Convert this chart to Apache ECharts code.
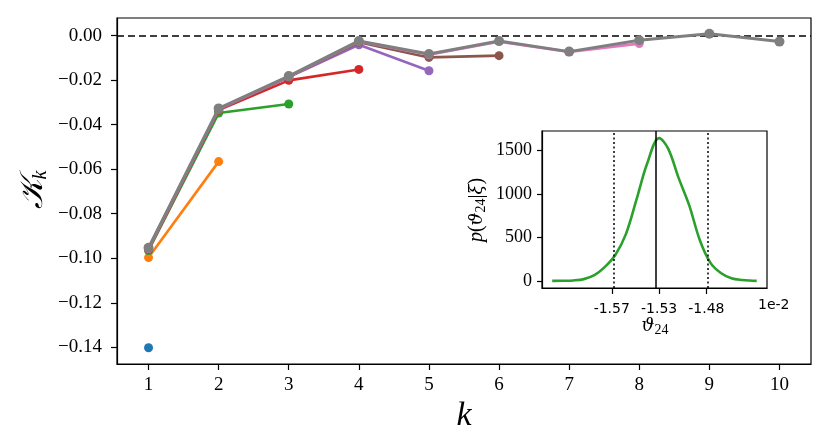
<!DOCTYPE html>
<html>
<head>
<meta charset="utf-8">
<script src="https://cdn.jsdelivr.net/npm/echarts@6/dist/echarts.min.js"></script>
<style>html,body{margin:0;padding:0;background:#fff}#c{width:831px;height:447px}</style>
</head>
<body>
<div id="c"></div>
<script>
// ---- main chart data ----
const kValues = [1, 2, 3, 4, 5, 6, 7, 8, 9, 10];
const yTicks = [0, -0.02, -0.04, -0.06, -0.08, -0.10, -0.12, -0.14];
const blueVals   = [-0.1402];
const orangeVals = [-0.0997, -0.0566];
const greenVals  = [-0.0965, -0.0348, -0.0307];
const redVals    = [-0.0960, -0.0335, -0.0201, -0.0152];
const purpleVals = [-0.0957, -0.0332, -0.0186, -0.0041, -0.0158];
const brownVals  = [-0.0957, -0.0330, -0.0185, -0.0030, -0.0098, -0.0090];
const pinkVals   = [-0.0956, -0.0329, -0.0184, -0.0026, -0.0086, -0.0027, -0.0073, -0.0036];
const grayVals   = [-0.0953, -0.0327, -0.0182, -0.0024, -0.0083, -0.0024, -0.0072, -0.0021, 0.0008, -0.0027];
const seriesColors = ['#1f77b4', '#ff7f0e', '#2ca02c', '#d62728', '#9467bd', '#8c564b', '#e377c2', '#7f7f7f'];
const allVals = [blueVals, orangeVals, greenVals, redVals, purpleVals, brownVals, pinkVals, grayVals];

// ---- inset data (theta in units of 1e-2) ----
const thetaVals   = [-1.628, -1.618, -1.608, -1.598, -1.588, -1.578, -1.568, -1.558, -1.548, -1.538, -1.5266, -1.518, -1.508, -1.498, -1.488, -1.478, -1.468, -1.458, -1.448, -1.438, -1.434];
const densityVals = [0, 1, 5, 20, 65, 160, 300, 540, 935, 1345, 1640, 1520, 1180, 868, 470, 210, 90, 30, 10, 2, 0];
const thetaTicks = [-1.5715, -1.5266, -1.4817];
const quantileLines = [-1.5715, -1.4817];
const meanLine = -1.5266;
const densityTicks = [0, 500, 1000, 1500];

const serif = 'Liberation Serif';
const greekSerif = 'DejaVu Serif';
const sans = 'DejaVu Sans';

const mainSeries = allVals.map((vals, si) => {
  const s = {
    type: 'line',
    xAxisIndex: 0, yAxisIndex: 0,
    data: vals.map((v, i) => [kValues[i], v]),
    symbol: 'circle',
    symbolSize: si === 7 ? 10 : 9,
    showSymbol: true,
    lineStyle: { color: seriesColors[si], width: si === 7 ? 3 : 2.6 },
    itemStyle: { color: seriesColors[si] },
    z: 2 + si,
    animation: false,
    silent: true
  };
  if (si === 0) {
    s.markLine = {
      silent: true, symbol: 'none', label: { show: false }, z: 1,
      lineStyle: { color: '#000', type: [7, 4], width: 1.5 },
      data: [{ yAxis: 0 }],
      animation: false
    };
  }
  return s;
});

const insetSeries = {
  type: 'line',
  xAxisIndex: 1, yAxisIndex: 1,
  data: thetaVals.map((t, i) => [t, densityVals[i]]),
  showSymbol: false,
  symbol: 'none',
  smooth: 0.35,
  lineStyle: { color: '#2ca02c', width: 2.6 },
  z: 20,
  animation: false,
  silent: true,
  markLine: {
    silent: true, symbol: 'none', label: { show: false }, animation: false, z: 30,
    data: [
      { xAxis: quantileLines[0], lineStyle: { color: '#000', type: [2, 2.5], width: 1.5 } },
      { xAxis: quantileLines[1], lineStyle: { color: '#000', type: [2, 2.5], width: 1.5 } },
      { xAxis: meanLine, lineStyle: { color: '#000', type: 'solid', width: 1.5 } }
    ]
  }
};

const chart = echarts.init(document.getElementById('c'), null, { renderer: 'canvas' });
chart.setOption({
  backgroundColor: '#fff',
  animation: false,
  grid: [
    { left: 117, top: 18, width: 694, height: 346, show: true, borderColor: '#000', borderWidth: 1.2, backgroundColor: 'transparent', z: 0 },
    { left: 542, top: 131, width: 225, height: 157, show: true, borderColor: '#000', borderWidth: 1.2, backgroundColor: '#fff', z: 10 }
  ],
  xAxis: [
    {
      gridIndex: 0, type: 'value', min: 0.55, max: 10.45,
      axisLine: { show: true, onZero: false, lineStyle: { color: '#000', width: 1.2 } },
      axisTick: { show: true, inside: false, length: 6, lineStyle: { color: '#000', width: 1.2 }, customValues: kValues },
      axisLabel: { show: true, margin: 12, fontFamily: serif, fontSize: 19, color: '#000', customValues: kValues, formatter: v => String(v) },
      splitLine: { show: false }
    },
    {
      gridIndex: 1, type: 'value', min: -1.6377, max: -1.4242, z: 10,
      axisLine: { show: true, onZero: false, lineStyle: { color: '#000', width: 1.2 } },
      axisTick: { show: true, inside: false, length: 6, lineStyle: { color: '#000', width: 1.2 }, customValues: thetaTicks },
      axisLabel: { show: true, margin: 14, fontFamily: sans, fontSize: 14, color: '#000', customValues: thetaTicks, formatter: v => v.toFixed(2) },
      splitLine: { show: false }
    }
  ],
  yAxis: [
    {
      gridIndex: 0, type: 'value', min: -0.1475, max: 0.0079,
      axisLine: { show: true, onZero: false, lineStyle: { color: '#000', width: 1.2 } },
      axisTick: { show: true, inside: false, length: 6, lineStyle: { color: '#000', width: 1.2 }, customValues: yTicks },
      axisLabel: { show: true, margin: 15, fontFamily: serif, fontSize: 19, color: '#000', customValues: yTicks,
        formatter: v => (Math.abs(v) < 1e-9 ? '0.00' : (v < 0 ? '\u2212' : '') + Math.abs(v).toFixed(2)) },
      splitLine: { show: false }
    },
    {
      gridIndex: 1, type: 'value', min: -82, max: 1722, z: 10,
      axisLine: { show: true, onZero: false, lineStyle: { color: '#000', width: 1.2 } },
      axisTick: { show: true, inside: false, length: 5, lineStyle: { color: '#000', width: 1.2 }, customValues: densityTicks },
      axisLabel: { show: true, margin: 10, fontFamily: serif, fontSize: 18, color: '#000', customValues: densityTicks, formatter: v => String(v) },
      splitLine: { show: false }
    }
  ],
  series: mainSeries.concat([insetSeries]),
  graphic: [
    {
      type: 'text', x: 34, y: 190, rotation: Math.PI / 2, z: 100,
      style: {
        text: '{K|\uD835\uDCA6}{s|k}', align: 'center', verticalAlign: 'middle', fill: '#000',
        rich: {
          K: { fontFamily: serif, fontSize: 32, fontStyle: 'italic', lineHeight: 34, verticalAlign: 'middle' },
          s: { fontFamily: serif, fontSize: 20, fontStyle: 'italic', lineHeight: 18, verticalAlign: 'bottom' }
        }
      }
    },
    {
      type: 'text', x: 464, y: 416, z: 100,
      style: { text: 'k', align: 'center', verticalAlign: 'middle', fill: '#000', fontFamily: serif, fontSize: 34, fontStyle: 'italic' }
    },
    {
      type: 'text', x: 655, y: 326, z: 100,
      style: {
        text: '{t|\u03D1}{s|24}', align: 'center', verticalAlign: 'middle', fill: '#000',
        rich: {
          t: { fontFamily: greekSerif, fontSize: 18, fontStyle: 'italic', lineHeight: 22, verticalAlign: 'middle' },
          s: { fontFamily: serif, fontSize: 14, lineHeight: 12, verticalAlign: 'bottom' }
        }
      }
    },
    {
      type: 'text', x: 477, y: 210, rotation: Math.PI / 2, z: 100,
      style: {
        text: '{i|p}{n|(}{g|\u03D1}{s|24}{n||}{g|\u03BE}{n|)}', align: 'center', verticalAlign: 'middle', fill: '#000',
        rich: {
          i: { fontFamily: serif, fontSize: 20, fontStyle: 'italic', lineHeight: 22, verticalAlign: 'middle' },
          g: { fontFamily: greekSerif, fontSize: 18, fontStyle: 'italic', lineHeight: 22, verticalAlign: 'middle' },
          n: { fontFamily: serif, fontSize: 20, lineHeight: 22, verticalAlign: 'middle' },
          s: { fontFamily: serif, fontSize: 14, lineHeight: 12, verticalAlign: 'bottom' }
        }
      }
    },
    {
      type: 'text', x: 758, y: 305, z: 100,
      style: { text: '1e-2', align: 'left', verticalAlign: 'middle', fill: '#000', fontFamily: sans, fontSize: 14 }
    }
  ]
});
</script>
</body>
</html>
